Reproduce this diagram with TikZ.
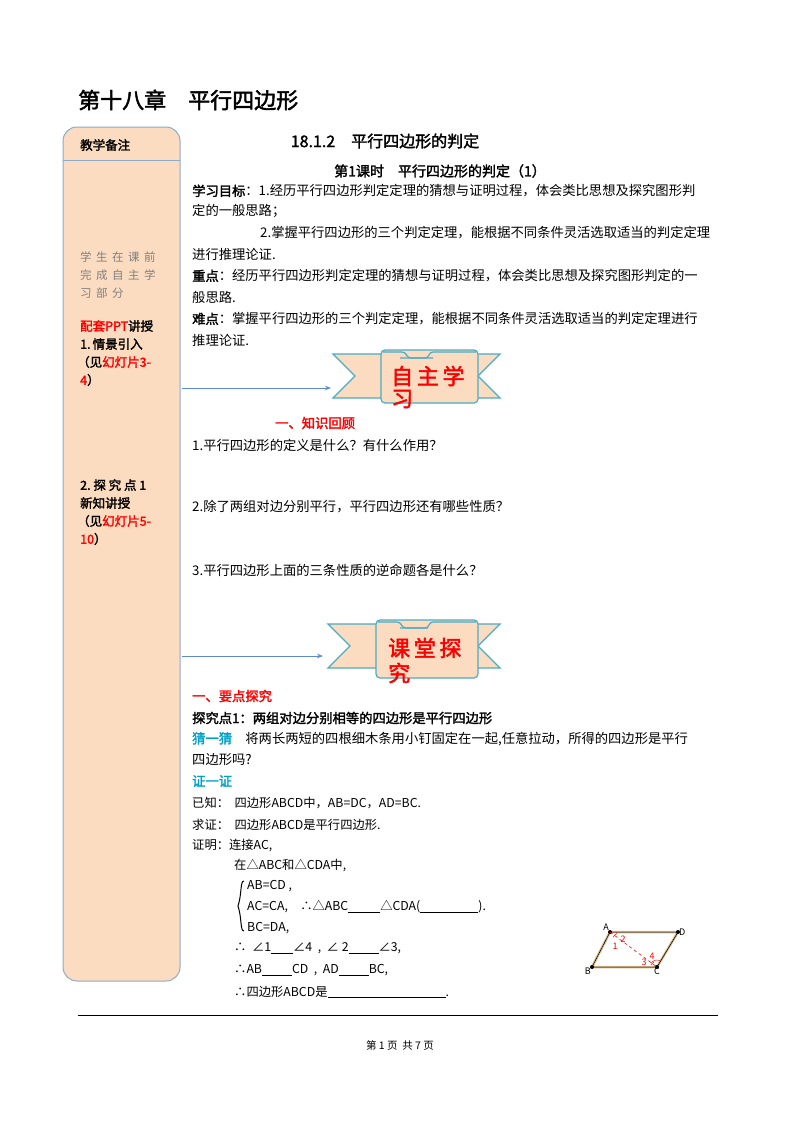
\documentclass[tikz,border=0pt]{standalone}
\usepackage{fontspec}
\setmainfont{Noto Sans CJK SC}[AutoFakeBold=2]
\usetikzlibrary{arrows.meta}
\definecolor{peach}{HTML}{FBDCC0}
\definecolor{bord}{HTML}{8EAACB}
\definecolor{ribb}{HTML}{4BACC6}
\definecolor{cy}{HTML}{00A0C6}
\definecolor{arr}{HTML}{5B8BC9}
\definecolor{wood}{HTML}{D9B98A}
\tikzset{
 t/.style={anchor=west,inner sep=0,font=\fontsize{13.3}{15}\selectfont},
 side/.style={anchor=west,inner sep=0,font=\fontsize{12.5}{15}\selectfont\bfseries},
 ptl/.style={font=\fontsize{9}{10}\selectfont\itshape,inner sep=1pt},
 ang/.style={red,font=\fontsize{9}{10}\selectfont\itshape,inner sep=0},
 bt/.style={anchor=west,inner sep=0,red,font=\fontsize{22}{24}\selectfont\bfseries}
}
\newcommand{\banner}[4]{% x0 y0 x1 y1
 \begin{scope}[shift={(#1,#2)}]
  \fill[peach,draw=ribb,line width=1.2pt] (0,4) -- (65,4) -- (65,48) -- (0,48) -- (22,26) -- cycle;
  \fill[peach,draw=ribb,line width=1.2pt] (#3-#1,4) -- (#3-#1-60,4) -- (#3-#1-60,48) -- (#3-#1,48) -- (#3-#1-22,26) -- cycle;
  \fill[peach,draw=ribb,line width=1.2pt,rounded corners=4pt] (48,0) -- (#3-#1-22,0) -- (#3-#1-22,#4-#2) -- (48,#4-#2) -- cycle;
  \draw[ribb,line width=1.2pt,rounded corners=3pt] (50,2) -- (72,2) -- (75,8) -- (100,8);
  \draw[ribb,line width=1.2pt,rounded corners=3pt] (#3-#1-24,2) -- (#3-#1-70,2) -- (#3-#1-72,8) -- (#3-#1-100,8);
 \end{scope}}
\begin{document}
\begin{tikzpicture}[x=1pt,y=-1pt]
\useasboundingbox (0,0) rectangle (800,1132);
\fill[white] (0,0) rectangle (800,1132);
% title
\node[anchor=west,inner sep=0,font=\fontsize{22}{24}\selectfont\bfseries] (title) at (78,100) {第十八章\quad 平行四边形};
% sidebar
\draw[bord,fill=peach,line width=1pt,rounded corners=14pt] (63,127) rectangle (180,981);
\draw[bord,line width=1pt] (63,160) -- (180,160);
\node[side] (s0) at (80,145) {教学备注};
\begin{scope}[every node/.style={anchor=west,inner sep=0,font=\fontsize{11.5}{14}\selectfont,gray}]
\node (g1) at (80,257) {学\ \,生\ \,在\ \,课\ \,前};
\node (g2) at (80,275) {完\ \,成\ \,自\ \,主\ \,学};
\node (g3) at (80,293) {习\ \,部\ \,分};
\end{scope}
\node[side] (s1) at (80,326) {\textcolor{red}{配套PPT}讲授};
\node[side] (s2) at (80,344) {1.\,情景引入};
\node[side] (s3) at (77,362) {（见\textcolor{red}{幻灯片3-}};
\node[side] (s4) at (80,380) {\textcolor{red}{4}）};
\node[side] (s5) at (80,485) {2.\ 探\ 究\ 点\ 1};
\node[side] (s6) at (80,503) {新知讲授};
\node[side] (s7) at (77,521) {（见\textcolor{red}{幻灯片5-}};
\node[side] (s8) at (80,539) {\textcolor{red}{10}）};
% arrows
\coordinate (a1s) at (182,388); \coordinate (a1e) at (331,388);
\coordinate (a2s) at (182,656); \coordinate (a2e) at (323,656);
\draw[arr,line width=1pt,-{Stealth[length=6pt]}] (a1s) -- (a1e);
\draw[arr,line width=1pt,-{Stealth[length=6pt]}] (a2s) -- (a2e);
% banners
\banner{333}{350}{500}{403}
\node[bt] (b1) at (391,376) {自\,主\,学};
\node[bt] (b1b) at (391,399) {习};
\banner{328}{620}{500}{678}
\node[bt] (b2) at (388,648) {课\,堂\,探};
\node[bt] (b2b) at (388,673) {究};
% headings
\node[inner sep=0,font=\fontsize{16}{18}\selectfont\bfseries] (h1) at (385,141) {18.1.2\quad 平行四边形的判定};
\node[inner sep=0,font=\fontsize{14}{16}\selectfont\bfseries] (h2) at (440,171) {第1课时\quad 平行四边形的判定（1）};
% body
\node[t] (l1) at (192,191) {\textbf{学习目标}：1.经历平行四边形判定定理的猜想与证明过程，体会类比思想及探究图形判};
\node[t] (l2) at (192,211) {定的一般思路；};
\node[t] (l3) at (260,233) {2.掌握平行四边形的三个判定定理，能根据不同条件灵活选取适当的判定定理};
\node[t] (l4) at (192,254) {进行推理论证.};
\node[t] (l5) at (192,276) {\textbf{重点}：经历平行四边形判定定理的猜想与证明过程，体会类比思想及探究图形判定的一};
\node[t] (l6) at (192,297) {般思路.};
\node[t] (l7) at (192,319) {\textbf{难点}：掌握平行四边形的三个判定定理，能根据不同条件灵活选取适当的判定定理进行};
\node[t] (l8) at (192,340) {推理论证.};
\node[t,red,font=\fontsize{13.3}{15}\selectfont\bfseries] (k0) at (275,423) {一、知识回顾};
\node[t] (q1) at (192,445) {1.平行四边形的定义是什么？有什么作用？};
\node[t] (q2) at (192,507) {2.除了两组对边分别平行，平行四边形还有哪些性质？};
\node[t] (q3) at (192,570) {3.平行四边形上面的三条性质的逆命题各是什么？};
\node[t,red,font=\fontsize{13.3}{15}\selectfont\bfseries] (e0) at (192,696) {一、要点探究};
\node[t,font=\fontsize{13.3}{15}\selectfont\bfseries] (e1) at (192,718) {探究点1：两组对边分别相等的四边形是平行四边形};
\node[t] (e2) at (192,739) {\textcolor{cy}{\textbf{猜一猜}}\quad 将两长两短的四根细木条用小钉固定在一起,任意拉动，所得的四边形是平行};
\node[t] (e3) at (192,760) {四边形吗?};
\node[t,cy,font=\fontsize{13.3}{15}\selectfont\bfseries] (e4) at (192,781) {证一证};
\begin{scope}[every node/.style={t,font=\fontsize{12.3}{15}\selectfont}]
\node (p1) at (192,803) {已知：\ \ 四边形ABCD中，AB=DC，AD=BC.};
\node (p2) at (192,825) {求证：\ \ 四边形ABCD是平行四边形.};
\node (p3) at (192,845) {证明：连接AC,};
\node (p4) at (234,865) {在△ABC和△CDA中,};
\node (p5) at (247,886) {AB=CD\ ,};
\node (p6) at (247,907) {AC=CA,\quad ∴△ABC\underline{\hspace{32pt}}△CDA(\underline{\hspace{58pt}}).};
\node (p7) at (247,928) {BC=DA,};
\node (p8) at (234,948) {∴\ \ ∠1\underline{\hspace{22pt}}∠4\ \ ,\ \ ∠\ 2\underline{\hspace{30pt}}∠3,};
\node (p9) at (234,970) {∴AB\underline{\hspace{30pt}}CD\ \ ,\ \ AD\underline{\hspace{30pt}}BC,};
\node (p10) at (234,992) {∴四边形ABCD是\underline{\hspace{118pt}}.};
\end{scope}
\draw[line width=1pt] (244,881) .. controls (240,881) and (242,894) .. (238,906) .. controls (242,918) and (240,931) .. (244,931);
% figure
\coordinate (A) at (610,932); \coordinate (D) at (678,932);
\coordinate (B) at (592,967); \coordinate (C) at (657,967);
\draw[wood,line width=2.5pt] (A) -- (D) -- (C) -- (B) -- cycle;
\draw[line width=0.5pt] (A) -- (D) -- (C) -- (B) -- cycle;
\foreach \p in {A,B,C,D} \fill (\p) circle (2pt);
\draw[red,dashed,line width=0.6pt] (A) -- (C);
\node[ptl,anchor=south east] (nA) at (A) {A};
\node[ptl,anchor=west] (nD) at (D) {D};
\node[ptl,anchor=north east] (nB) at (B) {B};
\node[ptl,anchor=north] (nC) at (C) {C};
\draw[red,line width=0.5pt] ([shift={(-60:6pt)}]A) arc (-60:-20:6pt);
\draw[red,line width=0.5pt] ([shift={(-20:7pt)}]A) arc (-20:0:7pt);
\draw[red,line width=0.5pt] ([shift={(120:6pt)}]C) arc (120:160:6pt);
\draw[red,line width=0.5pt] ([shift={(60:7pt)}]C) arc (60:150:7pt);
\node[ang] (n1) at (615,946) {1};
\node[ang] (n2) at (623,939) {2};
\node[ang] (n3) at (644,962) {3};
\node[ang] (n4) at (652,956) {4};
% footer
\draw[line width=1pt] (78,1015) -- (718,1015);
\node[inner sep=0,font=\fontsize{10.5}{12}\selectfont] (ft) at (400,1045) {第\ 1\ 页\ \ 共\ 7\ 页};
\end{tikzpicture}
\end{document}
